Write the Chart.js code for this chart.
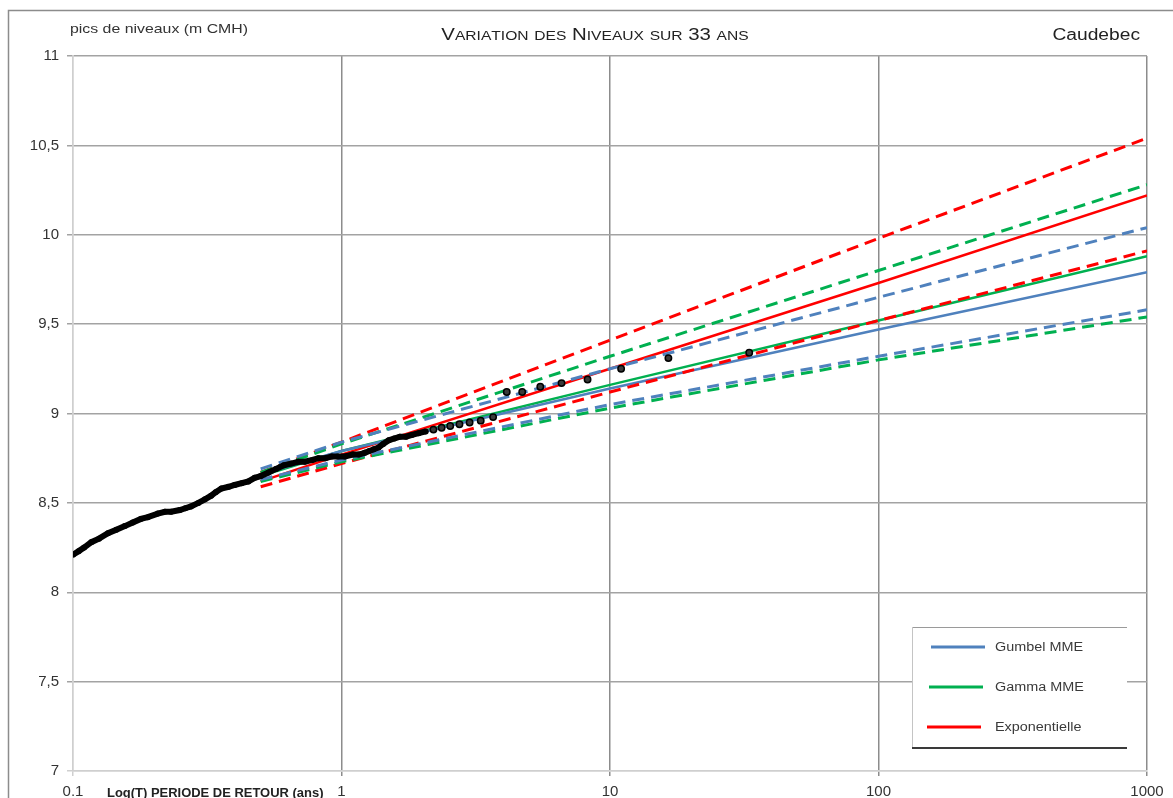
<!DOCTYPE html>
<html lang="fr">
  <head>
    <meta charset="UTF-8" />
    <title>Variation des niveaux sur 33 ans - Caudebec</title>
    <script src="https://cdn.jsdelivr.net/npm/chart.js@4.4.1/dist/chart.umd.min.js"></script>
    <style>
      html, body { margin: 0; padding: 0; background: #fff; }
      #wrap { position: relative; width: 1173px; height: 798px; }
    </style>
  </head>
  <body>
    <div id="wrap"><canvas id="chart"></canvas></div>
    <script>
      // pics observes (periode de retour en ans, niveau en m CMH)
      const obsT = [0.1, 0.105, 0.11, 0.117, 0.125, 0.135, 0.145, 0.156, 0.167, 0.179,
        0.19, 0.207, 0.22, 0.232, 0.25, 0.262, 0.275, 0.293, 0.31, 0.327,
        0.34, 0.357, 0.38, 0.4, 0.425, 0.45, 0.475, 0.5, 0.535, 0.57,
        0.61, 0.65, 0.69, 0.73, 0.78, 0.82, 0.87, 0.92, 0.97, 1.03,
        1.1, 1.16, 1.22, 1.27, 1.32, 1.375, 1.43, 1.5, 1.57, 1.65,
        1.74, 1.83, 1.94, 2.06];
      const obsLevel = [8.21, 8.23, 8.25, 8.28, 8.30, 8.33, 8.35, 8.37, 8.39, 8.41,
        8.42, 8.44, 8.45, 8.45, 8.46, 8.47, 8.48, 8.50, 8.52, 8.54,
        8.56, 8.58, 8.59, 8.60, 8.61, 8.62, 8.64, 8.65, 8.67, 8.69,
        8.71, 8.72, 8.73, 8.73, 8.74, 8.75, 8.75, 8.76, 8.76, 8.76,
        8.77, 8.77, 8.78, 8.79, 8.80, 8.81, 8.83, 8.85, 8.86, 8.87,
        8.87, 8.88, 8.89, 8.90];
      // les plus forts pics, points isoles
      const peakT = [2.2, 2.36, 2.54, 2.75, 3.0, 3.3, 3.67, 4.125, 4.71, 5.5, 6.6, 8.25, 11, 16.5, 33];
      const peakLevel = [8.91, 8.92, 8.93, 8.94, 8.95, 8.96, 8.98, 9.12, 9.12, 9.15, 9.17, 9.19, 9.25, 9.31, 9.34];

      // ajustements et intervalles de confiance
      const fitT = [0.5, 1, 10, 100, 1000];
      const gumbel = [8.66, 8.79, 9.14, 9.47, 9.79];
      const gumbelLow = [8.63, 8.74, 9.05, 9.32, 9.58];
      const gumbelHigh = [8.69, 8.84, 9.25, 9.65, 10.04];
      const gamma = [8.65, 8.79, 9.16, 9.52, 9.88];
      const gammaLow = [8.62, 8.73, 9.03, 9.30, 9.54];
      const gammaHigh = [8.67, 8.83, 9.32, 9.80, 10.28];
      const expo = [8.62, 8.77, 9.25, 9.73, 10.22];
      const expoLow = [8.59, 8.72, 9.12, 9.52, 9.91];
      const expoHigh = [8.67, 8.84, 9.41, 9.98, 10.54];

      const xTicks = [0.1, 1, 10, 100, 1000];
      const legendLabels = ["Gumbel MME", "Gamma MME", "Exponentielle"];

      const BLUE = "#4f81bd";
      const GREEN = "#00b050";
      const RED = "#ff0000";
      const FONT = "'Liberation Sans', Arial, sans-serif";

      const pts = (xs, ys) => xs.map((x, i) => ({ x: x, y: ys[i] }));

      function fitLine(ys, color, dashed) {
        return {
          data: pts(fitT, ys),
          borderColor: color,
          borderWidth: dashed ? 3 : 2.5,
          borderDash: dashed ? [12, 7] : [],
          pointRadius: 0,
          tension: 0,
          order: 2
        };
      }

      // texte etire horizontalement comme sur l'original
      function stretchText(ctx, text, x, y, font, color, align, sx) {
        ctx.save();
        ctx.font = font;
        ctx.fillStyle = color;
        ctx.textBaseline = "alphabetic";
        const w = ctx.measureText(text).width * sx;
        let left = x;
        if (align === "center") left = x - w / 2;
        if (align === "right") left = x - w;
        ctx.translate(left, y);
        ctx.scale(sx, 1);
        ctx.textAlign = "left";
        ctx.fillText(text, 0, 0);
        ctx.restore();
      }

      function smallCaps(ctx, text, cx, y, big, small, color, sx) {
        ctx.save();
        ctx.fillStyle = color;
        ctx.textBaseline = "alphabetic";
        const parts = [];
        let total = 0;
        for (const ch of text) {
          const low = ch !== ch.toUpperCase();
          const f = (low ? small : big) + "px " + FONT;
          ctx.font = f;
          const c = low ? ch.toUpperCase() : ch;
          const w = ctx.measureText(c).width;
          parts.push({ c: c, f: f, w: w });
          total += w;
        }
        ctx.translate(cx - (total * sx) / 2, y);
        ctx.scale(sx, 1);
        let x = 0;
        parts.forEach(p => {
          ctx.font = p.f;
          ctx.fillText(p.c, x, 0);
          x += p.w;
        });
        ctx.restore();
      }

      const decor = {
        id: "decor",
        beforeDraw(chart) {
          const ctx = chart.ctx;
          ctx.save();
          ctx.fillStyle = "#fff";
          ctx.fillRect(0, 0, chart.width, chart.height);
          ctx.restore();
        },
        afterDraw(chart) {
          const ctx = chart.ctx;
          ctx.save();
          // cadre exterieur
          ctx.strokeStyle = "#8c8c8c";
          ctx.lineWidth = 1.5;
          ctx.strokeRect(8.5, 10.5, 1200, 820);

          smallCaps(ctx, "Variation des Niveaux sur 33 ans", 595, 40, 17, 13, "#222", 1.2);
          stretchText(ctx, "Caudebec", 1140, 40, "16px " + FONT, "#222", "right", 1.2);
          stretchText(ctx, "pics de niveaux (m CMH)", 70, 33, "13px " + FONT, "#333", "left", 1.22);
          stretchText(ctx, "Log(T) PERIODE DE RETOUR (ans)", 107, 797, "bold 12px " + FONT, "#222", "left", 1.08);

          // legende
          const lx = 912, ly = 627, lw = 215, lh = 121;
          ctx.fillStyle = "#fff";
          ctx.fillRect(lx, ly, lw, lh);
          ctx.lineWidth = 1;
          ctx.strokeStyle = "#9a9a9a";
          ctx.beginPath();
          ctx.moveTo(lx, ly + 0.5); ctx.lineTo(lx + lw, ly + 0.5);
          ctx.stroke();
          ctx.strokeStyle = "#c4c4c4";
          ctx.beginPath();
          ctx.moveTo(lx + 0.5, ly); ctx.lineTo(lx + 0.5, ly + lh);
          ctx.stroke();
          ctx.strokeStyle = "#3a3a3a";
          ctx.lineWidth = 2;
          ctx.beginPath();
          ctx.moveTo(lx, ly + lh); ctx.lineTo(lx + lw, ly + lh);
          ctx.stroke();

          const colors = [BLUE, GREEN, RED];
          const rows = [647, 687, 727];
          const starts = [931, 929, 927];
          rows.forEach((ry, i) => {
            ctx.strokeStyle = colors[i];
            ctx.lineWidth = 3;
            ctx.beginPath();
            ctx.moveTo(starts[i], ry);
            ctx.lineTo(starts[i] + 54, ry);
            ctx.stroke();
            stretchText(ctx, legendLabels[i], 995, ry + 4, "12px " + FONT, "#3a3a3a", "left", 1.2);
          });
          ctx.restore();
        }
      };

      const ctx = document.getElementById("chart").getContext("2d");
      const myChart = new Chart(ctx, {
        type: "line",
        data: {
          datasets: [
            {
              data: pts(obsT, obsLevel),
              borderColor: "#000",
              backgroundColor: "#000",
              borderWidth: 6,
              pointRadius: 3,
              pointBorderWidth: 0,
              tension: 0,
              order: 0
            },
            {
              data: pts(peakT, peakLevel),
              showLine: false,
              borderColor: "#000",
              backgroundColor: "#3a3a3a",
              borderWidth: 1.5,
              pointRadius: 3.2,
              order: 0
            },
            fitLine(gumbelLow, BLUE, true),
            fitLine(gumbelHigh, BLUE, true),
            fitLine(gammaLow, GREEN, true),
            fitLine(gammaHigh, GREEN, true),
            fitLine(expoLow, RED, true),
            fitLine(expoHigh, RED, true),
            fitLine(gumbel, BLUE, false),
            fitLine(gamma, GREEN, false),
            fitLine(expo, RED, false)
          ]
        },
        options: {
          responsive: true,
          maintainAspectRatio: false,
          animation: false,
          layout: { padding: { left: 0, right: 26, top: 56, bottom: 0 } },
          plugins: {
            legend: { display: false },
            title: { display: false },
            tooltip: { enabled: false }
          },
          scales: {
            x: {
              type: "logarithmic",
              min: 0.1,
              max: 1000,
              afterBuildTicks: scale => {
                scale.ticks = xTicks.map(v => ({ value: v }));
              },
              afterFit: scale => { scale.height = 27; },
              ticks: {
                callback: v => String(v),
                font: { family: FONT, size: 15 },
                color: "#333",
                padding: 7,
                maxRotation: 0,
                autoSkip: false
              },
              grid: {
                color: c => (c.tick && c.tick.value === 0.1 ? "#cfcfcf" : "#8c8c8c"),
                lineWidth: 1.5,
                tickLength: 5
              },
              border: { color: "#cfcfcf", width: 1.5 }
            },
            y: {
              min: 7,
              max: 11,
              afterFit: scale => { scale.width = 73; },
              ticks: {
                stepSize: 0.5,
                callback: v => String(v).replace(".", ","),
                font: { family: FONT, size: 15 },
                color: "#333",
                padding: 8
              },
              grid: {
                color: c => (c.tick && c.tick.value === 7 ? "#cfcfcf" : "#a3a3a3"),
                lineWidth: 1.5,
                tickLength: 6
              },
              border: { color: "#cfcfcf", width: 1.5 }
            }
          }
        },
        plugins: [decor]
      });
    </script>
  </body>
</html>
